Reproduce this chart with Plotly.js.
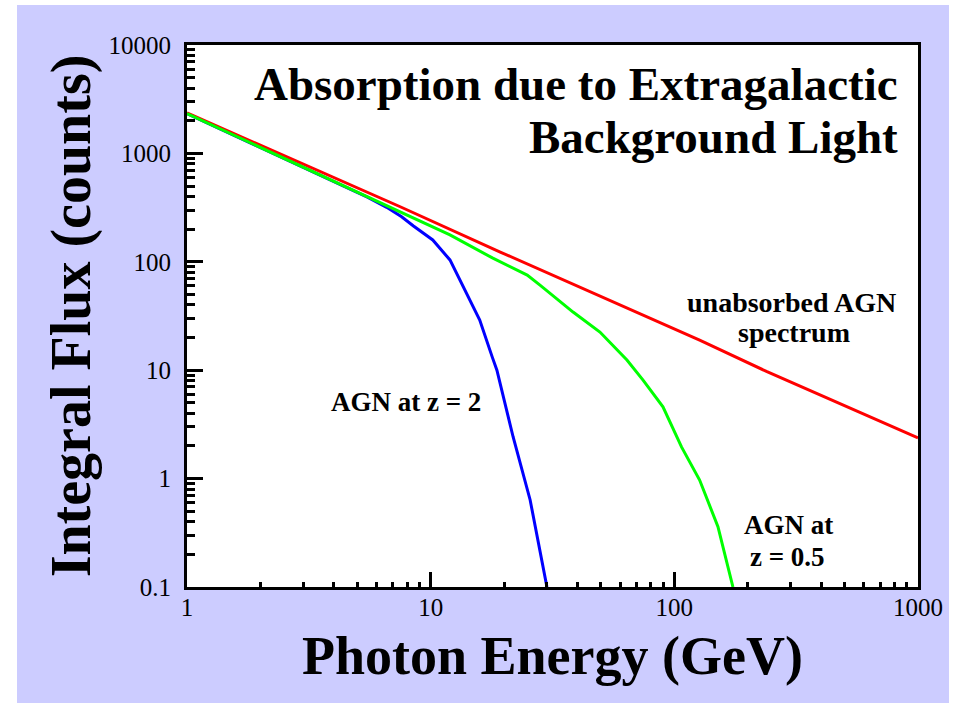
<!DOCTYPE html>
<html>
<head>
<meta charset="utf-8">
<script src="https://cdn.plot.ly/plotly-3.0.1.min.js"></script>
<style>
  html, body { margin: 0; padding: 0; background: #ffffff; width: 954px; height: 703px; overflow: hidden; }
  #chart { position: absolute; left: 17px; top: 5px; width: 932px; height: 698px; }
</style>
</head>
<body>
<div id="chart"></div>
<script>
// Photon energy (GeV) and integral flux (counts)
const redEnergy   = [1, 7.5, 19.3, 49.5, 127, 240, 1000];
const redFlux     = [2360, 322, 123, 48.5, 18.9, 9.7, 2.37];

const greenEnergy = [1, 4, 7.5, 12.0, 18.0, 24.9, 28.1, 38.4, 49.5, 63.9, 74.4, 89.8, 107, 127, 151, 174];
const greenFlux   = [2330, 551, 288, 177, 108, 75.5, 61, 34.4, 22.5, 12.4, 8.1, 4.6, 1.96, 0.97, 0.36, 0.1];

const blueEnergy  = [1, 4, 5.5, 6.6, 7.6, 8.5, 10.2, 12.0, 14.5, 15.9, 17.9, 18.7, 21.8, 25.6, 30.0];
const blueFlux    = [2330, 545, 395, 318, 260, 214, 159, 104, 44.4, 29.0, 13.2, 10.0, 2.42, 0.635, 0.1];

const titleLine1 = 'Absorption due to Extragalactic';
const titleLine2 = 'Background Light';
const xTitle = 'Photon Energy (GeV)';
const yTitle = 'Integral Flux (counts)';

const serif = '"Liberation Serif", "Times New Roman", serif';

const traces = [
  { x: blueEnergy, y: blueFlux, type: 'scatter', mode: 'lines', name: 'AGN at z = 2',
    line: { color: '#0000ff', width: 3 } },
  { x: redEnergy, y: redFlux, type: 'scatter', mode: 'lines', name: 'unabsorbed AGN spectrum',
    line: { color: '#ff0000', width: 3 } },
  { x: greenEnergy, y: greenFlux, type: 'scatter', mode: 'lines', name: 'AGN at z = 0.5',
    line: { color: '#00ff00', width: 3 } }
];

const axisCommon = {
  type: 'log',
  showgrid: false,
  zeroline: false,
  showline: true,
  linecolor: '#000000',
  linewidth: 3,
  mirror: true,
  ticks: 'inside',
  tickcolor: '#000000',
  tickwidth: 3,
  tickmode: 'linear',
  dtick: 1,
  tickformat: '~g',
  tickfont: { family: serif, size: 25, color: '#000000' }
};

function note(text, x, y, size) {
  return { text: '<b>' + text + '</b>', xref: 'paper', yref: 'paper', x: x, y: y,
    xanchor: 'center', yanchor: 'middle', showarrow: false,
    font: { family: serif, size: size, color: '#000000' } };
}

const layout = {
  width: 932,
  height: 698,
  paper_bgcolor: '#ccccff',
  plot_bgcolor: '#ffffff',
  showlegend: false,
  margin: { l: 170, r: 31, t: 40, b: 116 },
  xaxis: Object.assign({}, axisCommon, {
    range: [0, 3],
    tick0: 0,
    ticklen: 15,
    ticklabelstandoff: -4,
    minor: { ticks: 'inside', ticklen: 5, tickwidth: 3, tickcolor: '#000000', dtick: 'D1', showgrid: false },
    title: { text: '<b>' + xTitle + '</b>', font: { family: serif, size: 54, color: '#000000' }, standoff: 17 }
  }),
  yaxis: Object.assign({}, axisCommon, {
    range: [-1, 4],
    tick0: 0,
    ticklen: 16,
    ticklabelstandoff: 8,
    minor: { ticks: 'inside', ticklen: 8, tickwidth: 3, tickcolor: '#000000', dtick: 'D1', showgrid: false },
    title: { text: '<b>' + yTitle + '</b>', font: { family: serif, size: 56, color: '#000000' }, standoff: 0 }
  }),
  annotations: [
    Object.assign(note(titleLine1, 0.976, 0.928, 47), { xanchor: 'right' }),
    Object.assign(note(titleLine2, 0.976, 0.83, 47), { xanchor: 'right' }),
    note('unabsorbed AGN', 0.8275, 0.525, 28),
    note('spectrum', 0.83, 0.47, 28),
    note('AGN at z = 2', 0.3, 0.342, 27),
    note('AGN at', 0.823, 0.115, 27),
    note('z = 0.5', 0.821, 0.056, 27)
  ]
};

Plotly.newPlot('chart', traces, layout, { displayModeBar: false, staticPlot: true });
</script>
</body>
</html>
